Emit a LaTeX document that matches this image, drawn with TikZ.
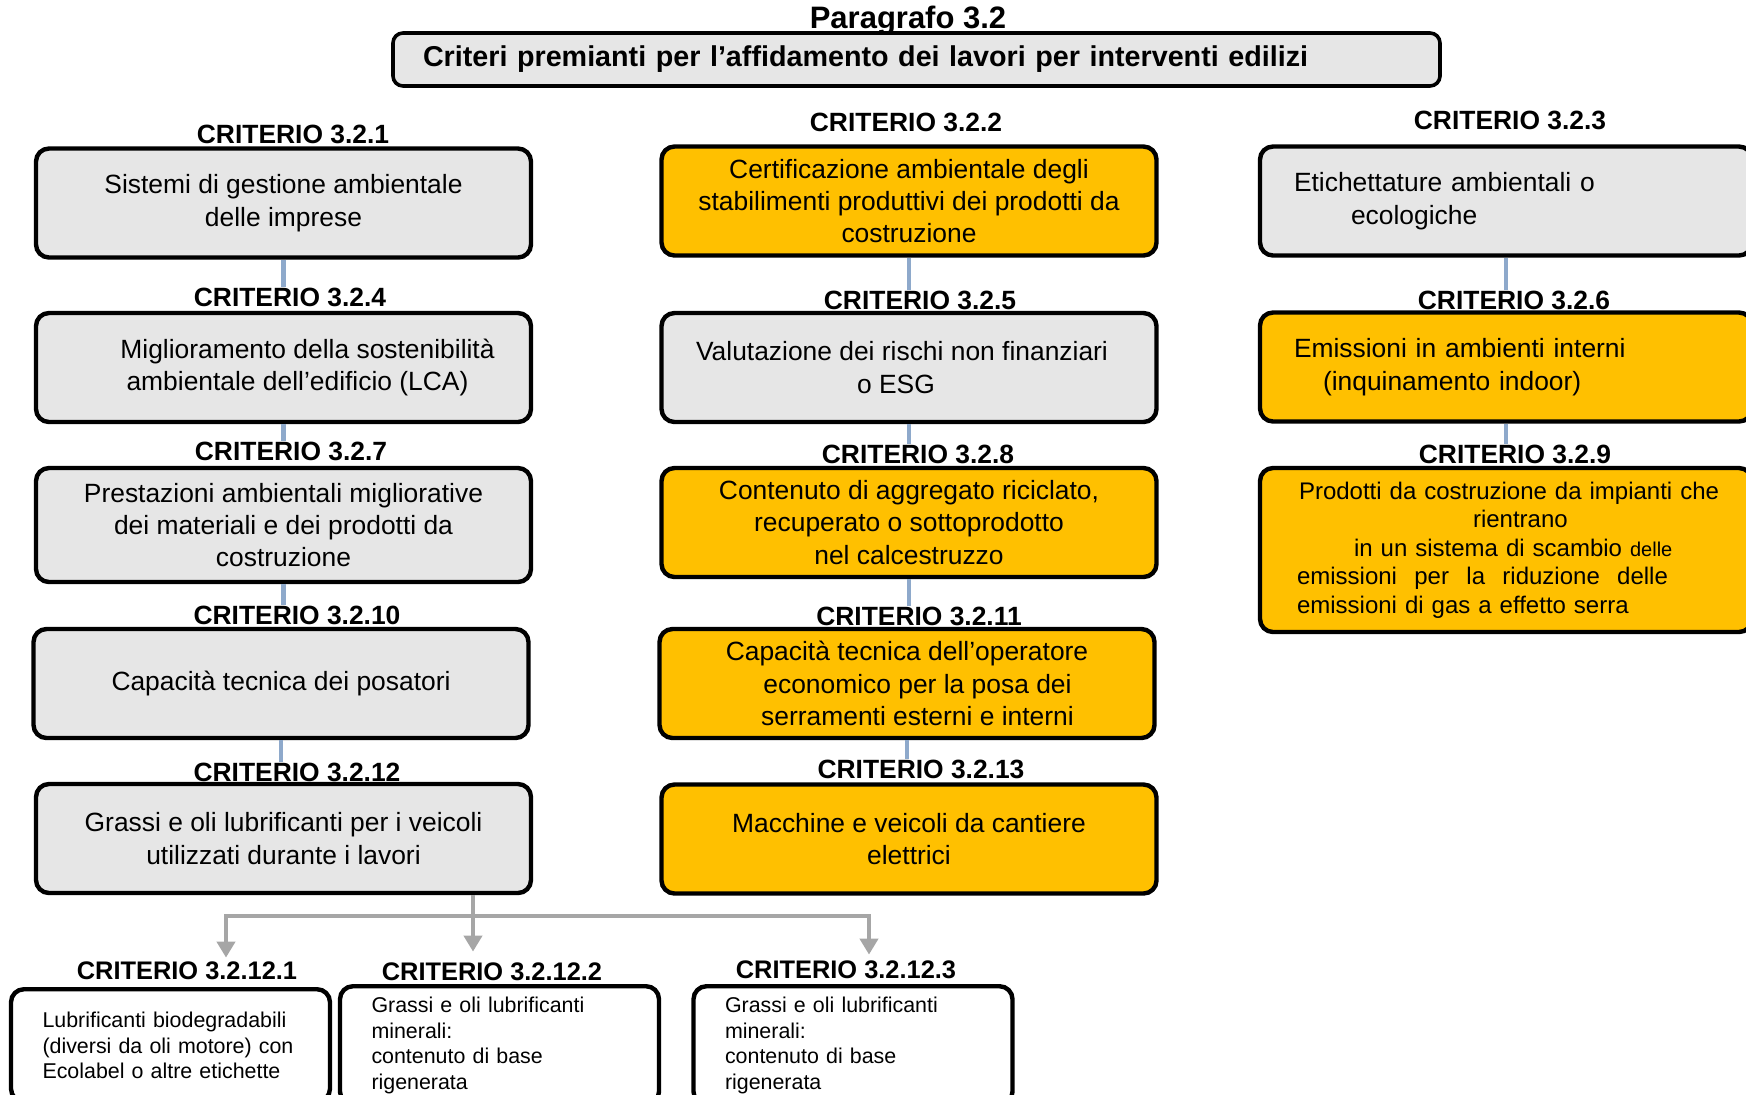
\documentclass[tikz,border=0pt]{standalone}
\usepackage{fontspec}
\setmainfont{Liberation Sans}
\usetikzlibrary{arrows.meta}
\definecolor{boxgrey}{HTML}{E6E6E6}
\definecolor{boxgold}{HTML}{FFC000}
\definecolor{linkblue}{HTML}{8EA9CB}
\definecolor{feedgrey}{HTML}{A6A6A6}

\begin{document}
\begin{tikzpicture}[
x=0.5pt, y=-0.5pt,
box/.style={
  rectangle,
  rounded corners=6.5pt,
  draw=black,
  line width=2.2pt,
  minimum width=247.5pt,
  minimum height=54.5pt,
  inner sep=0pt,
  align=center,
  font=\fontsize{13.2}{16.2}\selectfont
},
greybox/.style={box, fill=boxgrey},
goldbox/.style={box, fill=boxgold},
sidebox/.style={text width=212pt, inner xsep=17pt, minimum width=246pt, align=left},
subbox/.style={
  rectangle,
  rounded corners=6.5pt,
  draw=black,
  line width=2.2pt,
  fill=white,
  anchor=north,
  text width=128pt,
  inner xsep=15.75pt,
  align=left,
  font=\fontsize{10.7}{12.8}\selectfont
},
crit/.style={font=\fontsize{13.2}{15}\selectfont\bfseries, inner sep=0pt},
subcrit/.style={font=\fontsize{12.7}{15}\selectfont\bfseries, inner sep=0pt},
conn/.style={linkblue, line width=2.2pt},
feed/.style={feedgrey, line width=2pt, >={Triangle[width=9pt,length=8pt]}}
]
\useasboundingbox (0,0) rectangle (1746,1094);
\clip (0,0) rectangle (1746,1094);

% title
\node (title) at (908,28) [anchor=base, font=\fontsize{15.5}{17}\selectfont\bfseries] {Paragrafo 3.2};
\node (head) at (916.5,59.5) [rectangle, rounded corners=5pt, draw=black, line width=1.8pt,
  fill=boxgrey, minimum width=523.5pt, minimum height=26.5pt, text width=493.5pt,
  inner xsep=15pt, inner ysep=0pt, align=left, font=\fontsize{14.35}{17}\selectfont\bfseries]
  {Criteri premianti per l’affidamento dei lavori per interventi edilizi};

% first column
\node (l321) at (293,134) [crit] {CRITERIO 3.2.1};
\node (b321) at (283.5,203) [greybox] {Sistemi di gestione ambientale\\delle imprese};
\node (l324) at (290,297) [crit] {CRITERIO 3.2.4};
\node (b324) at (283.5,367.5) [greybox]
  {\hspace*{24pt}Miglioramento della sostenibilità\\\hspace*{14pt}ambientale dell’edificio (LCA)};
\node (l327) at (291,451) [crit] {CRITERIO 3.2.7};
\node (b327) at (283.5,525) [greybox, minimum height=57pt]
  {Prestazioni ambientali migliorative\\dei materiali e dei prodotti da\\costruzione};
\node (l3210) at (297,615) [crit] {CRITERIO 3.2.10};
\node (b3210) at (281,683.5) [greybox] {Capacità tecnica dei posatori};
\node (l3212) at (297,772) [crit] {CRITERIO 3.2.12};
\node (b3212) at (283.5,838.5) [greybox]
  {Grassi e oli lubrificanti per i veicoli\\utilizzati durante i lavori};

% second column
\node (l322) at (906,122) [crit] {CRITERIO 3.2.2};
\node (b322) at (909,201) [goldbox]
  {Certificazione ambientale degli\\stabilimenti produttivi dei prodotti da\\costruzione};
\node (l325) at (920,300) [crit] {CRITERIO 3.2.5};
\node (b325) at (909,367.5) [greybox]
  {Valutazione dei rischi non finanziari\hspace*{7pt}\mbox{}\\o ESG\hspace*{13pt}\mbox{}};
\node (l328) at (918,454) [crit] {CRITERIO 3.2.8};
\node (b328) at (909,522.5) [goldbox]
  {Contenuto di aggregato riciclato,\\recuperato o sottoprodotto\\nel calcestruzzo};
\node (l3211) at (919,616) [crit] {CRITERIO 3.2.11};
\node (b3211) at (907,683.5) [goldbox]
  {Capacità tecnica dell’operatore\\\hspace*{10.5pt}economico per la posa dei\\\hspace*{10.5pt}serramenti esterni e interni};
\node (l3213) at (921,769) [crit] {CRITERIO 3.2.13};
\node (b3213) at (909,839) [goldbox] {Macchine e veicoli da cantiere\\elettrici};

% third column
\node (l323) at (1510,120) [crit] {CRITERIO 3.2.3};
\node (b323) at (1506,201) [greybox, sidebox]
  {Etichettature ambientali o\\\hspace*{28.5pt}ecologiche};
\node (l326) at (1514,300) [crit] {CRITERIO 3.2.6};
\node (b326) at (1506,367) [goldbox, sidebox]
  {Emissioni in ambienti interni\\\hspace*{14.5pt}(inquinamento indoor)};
\node (l329) at (1515,454) [crit] {CRITERIO 3.2.9};
\node (b329) at (1506,550) [goldbox, sidebox, minimum height=82pt, font=\fontsize{12}{14.3}\selectfont]
  {\hspace*{2.5pt}\makebox[210pt]{Prodotti\hfill da\hfill costruzione\hfill da\hfill impianti\hfill che}\\
   \hspace*{89.5pt}rientrano\\
   \hspace*{30pt}in un sistema di scambio {\fontsize{10}{14.3}\selectfont delle}\\
   \hspace*{1.5pt}\makebox[185.5pt]{emissioni\hfill per\hfill la\hfill riduzione\hfill delle}\\
   \hspace*{1.5pt}emissioni di gas a effetto serra};

% sub-criteria
\node (l32121) at (187,971) [subcrit] {CRITERIO 3.2.12.1};
\node (b32121) at (170.5,987) [subbox, inner ysep=11.4pt]
  {Lubrificanti biodegradabili\\(diversi da oli motore) con\\Ecolabel o altre etichette};
\node (l32122) at (492,972) [subcrit] {CRITERIO 3.2.12.2};
\node (b32122) at (499.5,984) [subbox, inner ysep=5.4pt]
  {Grassi e oli lubrificanti\\minerali:\\contenuto di base\\rigenerata};
\node (l32123) at (846,970) [subcrit] {CRITERIO 3.2.12.3};
\node (b32123) at (853,984) [subbox, inner ysep=5.4pt]
  {Grassi e oli lubrificanti\\minerali:\\contenuto di base\\rigenerata};

% links
\draw [conn] (b321.south) -- (b321.south |- l324.north);
\draw [conn] (b324.south) -- (b324.south |- l327.north);
\draw [conn] (b327.south) -- (b327.south |- l3210.north);
\draw [conn] (b3210.south) -- (b3210.south |- l3212.north);
\draw [conn] (b322.south) -- (b322.south |- l325.north);
\draw [conn] (b325.south) -- (b325.south |- l328.north);
\draw [conn] (b328.south) -- (b328.south |- l3211.north);
\draw [conn] (b3211.south) -- (b3211.south |- l3213.north);
\draw [conn] (b323.south) -- (b323.south |- l326.north);
\draw [conn] (b326.south) -- (b326.south |- l329.north);

\coordinate (hl) at (226,916);
\coordinate (hr) at (869,916);
\coordinate (split) at (473,916);
\draw [feed,<->,shorten <=2pt,shorten >=3pt] (hl |- l32121.north) -- (hl) -- (hr) -- (hr |- l32123.north);
\draw [feed,->,shorten >=5.5pt] (b3212.south -| split) -- (split |- l32122.north);

\end{tikzpicture}
\end{document}
